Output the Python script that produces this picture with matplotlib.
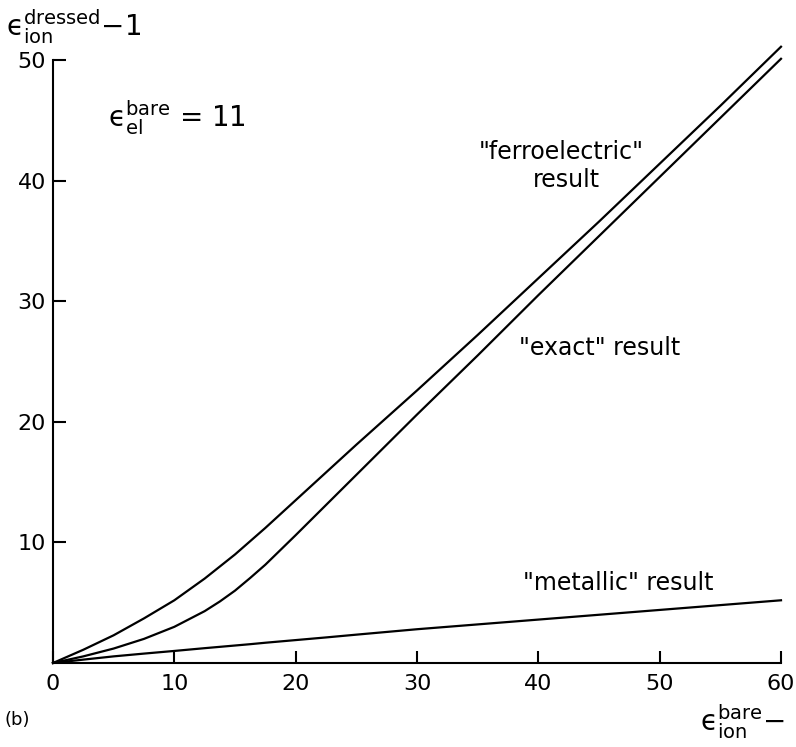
import numpy as np
import matplotlib
matplotlib.use("Agg")
import matplotlib.pyplot as plt

# values
eps_bare = [0, 2.5, 5, 7.5, 10, 12.5, 13.75, 15, 16.25, 17.5, 20, 22.5, 25, 30, 35, 40, 45, 50, 55, 60]
ferro = [0, 1.1, 2.3, 3.7, 5.2, 7.0, 8.0, 9.0, 10.1, 11.2, 13.5, 15.8, 18.1, 22.6, 27.2, 31.9, 36.6, 41.4, 46.2, 51.1]
exact = [0, 0.55, 1.2, 2.0, 3.0, 4.3, 5.1, 6.0, 7.05, 8.15, 10.6, 13.1, 15.6, 20.6, 25.5, 30.5, 35.4, 40.3, 45.2, 50.1]
metallic = [0, 0.28, 0.55, 0.78, 1.0, 1.23, 1.34, 1.45, 1.56, 1.68, 1.9, 2.12, 2.35, 2.8, 3.2, 3.6, 4.0, 4.4, 4.8, 5.2]

xticks = [0, 10, 20, 30, 40, 50, 60]
yticks = [10, 20, 30, 40, 50]

plt.rcParams['mathtext.fontset'] = 'dejavusans'

fig = plt.figure(figsize=(7.96, 7.47), dpi=100)
W, H = 796, 747
ax = fig.add_axes([53/W, 1 - 663/H, (781-53)/W, (663-60)/H])

lw = 1.6
ax.plot(eps_bare, ferro, color='black', lw=lw, clip_on=False)
ax.plot(eps_bare, exact, color='black', lw=lw, clip_on=False)
ax.plot(eps_bare, metallic, color='black', lw=lw, clip_on=False)

ax.set_xlim(0, 60)
ax.set_ylim(0, 50)
for s in ['top', 'right']:
    ax.spines[s].set_visible(False)
for s in ['left', 'bottom']:
    ax.spines[s].set_linewidth(1.5)

ax.set_xticks(xticks)
ax.set_yticks(yticks)
ax.tick_params(axis='both', direction='in', length=9, width=1.5, labelsize=16)
ax.tick_params(axis='x', pad=8)
ax.tick_params(axis='y', pad=5)


# text positions in pixels from top-left
def px(x, y):
    return x / W, 1 - y / H


# curve labels
fig.text(*px(561, 152), '"ferroelectric"', fontsize=17, ha='center', va='center')
fig.text(*px(566, 180), 'result', fontsize=17, ha='center', va='center')
fig.text(*px(600, 348), '"exact" result', fontsize=17, ha='center', va='center')
fig.text(*px(618, 583), '"metallic" result', fontsize=17, ha='center', va='center')

fig.text(*px(6, 27), r'$\mathrm{ϵ}_{\rm ion}^{\rm dressed}$' + '\u22121', fontsize=20, ha='left', va='center')
fig.text(*px(108, 118), r'$\mathrm{ϵ}_{\rm el}^{\rm bare}$' + ' = 11', fontsize=20, ha='left', va='center')
fig.text(*px(700, 722), r'$\mathrm{ϵ}_{\rm ion}^{\rm bare}$' + '\u2212', fontsize=20, ha='left', va='center')
fig.text(*px(5, 720), '(b)', fontsize=13, ha='left', va='center')

fig.savefig('out.png', dpi=100)
